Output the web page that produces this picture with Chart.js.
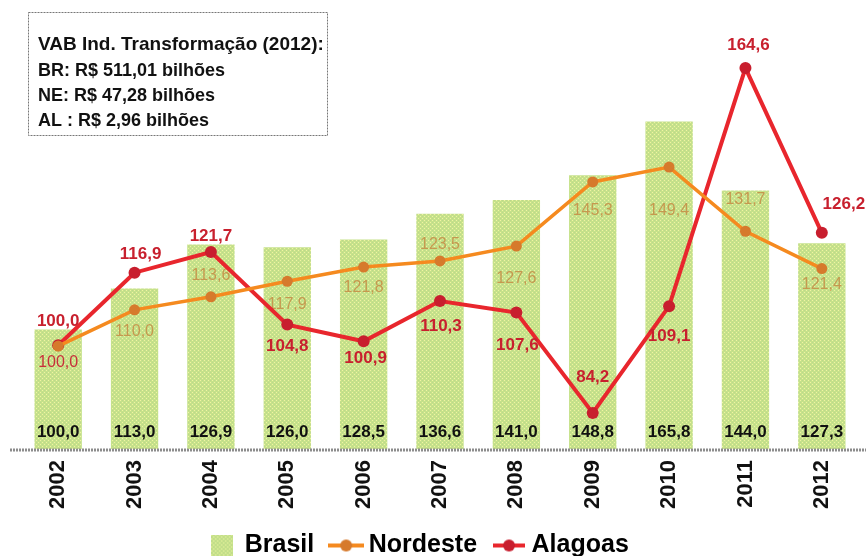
<!DOCTYPE html>
<html>
<head>
<meta charset="utf-8">
<script src="https://cdn.jsdelivr.net/npm/chart.js@4.4.1/dist/chart.umd.min.js"></script>
<style>
  html, body { margin: 0; padding: 0; background: #fff; }
</style>
</head>
<body>
<canvas id="vab-chart" width="866" height="556" style="width:866px;height:556px;display:block"></canvas>
<script>
const years = ["2002", "2003", "2004", "2005", "2006", "2007", "2008", "2009", "2010", "2011", "2012"];
const brasil = [100.0, 113.0, 126.9, 126.0, 128.5, 136.6, 141.0, 148.8, 165.8, 144.0, 127.3];
const nordeste = [100.0, 110.0, 113.6, 117.9, 121.8, 123.5, 127.6, 145.3, 149.4, 131.7, 121.4];
const alagoas = [100.0, 116.9, 121.7, 104.8, 100.9, 110.3, 107.6, 84.2, 109.1, 164.6, 126.2];

const boxTitle = "VAB Ind. Transformação (2012):";
const boxLines = ["BR: R$ 511,01 bilhões", "NE: R$ 47,28 bilhões", "AL : R$ 2,96 bilhões"];

// label placement relative to the point (px)
const nordesteLabelDy = [16, 22, -21, 23, 20, -16, 32, 29, 43, -32, 16];
const alagoasLabelDy = [-24, -18, -16, 22, 17, 25, 33, -36, 30, -23, -28];
const alagoasLabelDx = [0, 6, 0, 0, 2, 1, 1, 0, 0, 3, 22];

const FONT = "'Liberation Sans', Arial, sans-serif";
const fmt = (v) => v.toFixed(1).replace(".", ",");

const canvas = document.getElementById("vab-chart");
const ctx = canvas.getContext("2d");

const makeBarPattern = () => {
  const tile = document.createElement("canvas");
  tile.width = 4;
  tile.height = 4;
  const g = tile.getContext("2d");
  g.fillStyle = "#c6e28a";
  g.fillRect(0, 0, 4, 4);
  g.fillStyle = "#f0f4a2";
  g.fillRect(0, 0, 1, 1);
  g.fillRect(2, 2, 1, 1);
  g.fillStyle = "#bdd68e";
  g.fillRect(2, 0, 1, 1);
  g.fillRect(0, 2, 1, 1);
  return ctx.createPattern(tile, "repeat");
};
const barFill = makeBarPattern();

const legendBox = () => {
  const c = document.createElement("canvas");
  c.width = 22;
  c.height = 22;
  const g = c.getContext("2d");
  g.fillStyle = barFill;
  g.fillRect(0, 0, 22, 22);
  return c;
};

const legendLine = (w, lineColor, dotColor) => {
  const c = document.createElement("canvas");
  c.width = w;
  c.height = 14;
  const g = c.getContext("2d");
  g.strokeStyle = lineColor;
  g.lineWidth = 4;
  g.beginPath();
  g.moveTo(0, 7);
  g.lineTo(w, 7);
  g.stroke();
  g.fillStyle = dotColor;
  g.beginPath();
  g.arc(w / 2, 7, 6, 0, Math.PI * 2);
  g.fill();
  return c;
};

const legendIcons = [
  legendBox(),
  legendLine(36, "#f58a1f", "#d67a2c"),
  legendLine(32, "#e8262d", "#c81e2e"),
];

const valueLabels = {
  id: "valueLabels",
  afterLayout(chart) {
    // legend sits a bit left of centre in the original
    chart.legend.left -= 20;
    chart.legend.right -= 20;
  },
  afterDatasetDraw(chart, args) {
    if (args.index !== 0) return;
    const c = chart.ctx;
    const bars = chart.getDatasetMeta(0).data;
    const orange = chart.getDatasetMeta(1).data;
    c.save();
    c.textAlign = "center";
    c.textBaseline = "middle";
    c.font = "bold 17px " + FONT;
    c.fillStyle = "#111";
    bars.forEach((bar, i) => {
      c.fillText(fmt(brasil[i]), bar.x, chart.chartArea.bottom - 17);
    });
    c.font = "16px " + FONT;
    orange.forEach((pt, i) => {
      c.fillStyle = i === 0 ? "#c8303a" : "rgba(196, 134, 62, 0.8)";
      c.fillText(fmt(nordeste[i]), pt.x, pt.y + nordesteLabelDy[i]);
    });
    c.restore();
  },
  afterDatasetsDraw(chart) {
    const c = chart.ctx;
    const red = chart.getDatasetMeta(2).data;
    c.save();
    c.textAlign = "center";
    c.textBaseline = "middle";
    c.font = "bold 17px " + FONT;
    c.fillStyle = "#c8202e";
    red.forEach((pt, i) => {
      c.fillText(fmt(alagoas[i]), pt.x + alagoasLabelDx[i], pt.y + alagoasLabelDy[i]);
    });
    // axis line
    const y = chart.chartArea.bottom + 1;
    c.strokeStyle = "#8c8c8c";
    c.lineWidth = 3;
    c.setLineDash([2, 1]);
    c.beginPath();
    c.moveTo(10, y);
    c.lineTo(chart.width, y);
    c.stroke();
    c.restore();
  },
  afterDraw(chart) {
    const c = chart.ctx;
    c.save();
    c.fillStyle = "#fff";
    c.fillRect(28, 12, 299, 123);
    c.strokeStyle = "#777";
    c.lineWidth = 1;
    c.setLineDash([2, 1]);
    c.strokeRect(28.5, 12.5, 299, 123);
    c.setLineDash([]);
    c.fillStyle = "#111";
    c.textAlign = "left";
    c.textBaseline = "middle";
    c.font = "bold 19px " + FONT;
    c.fillText(boxTitle, 38, 45);
    c.font = "bold 18px " + FONT;
    boxLines.forEach((line, i) => {
      c.fillText(line, 38, 71 + i * 25);
    });
    c.restore();
  },
};

new Chart(ctx, {
  data: {
    labels: years,
    datasets: [
      {
        type: "bar",
        label: "Brasil",
        data: brasil,
        backgroundColor: barFill,
        borderWidth: 0,
        barPercentage: 0.62,
        categoryPercentage: 1,
        yAxisID: "yBar",
        order: 3,
      },
      {
        type: "line",
        label: "Nordeste",
        data: nordeste,
        borderColor: "#f58a1f",
        borderWidth: 3.5,
        pointRadius: 5.5,
        pointBackgroundColor: "#d67a2c",
        pointBorderWidth: 0,
        tension: 0,
        yAxisID: "yNe",
        order: 1,
      },
      {
        type: "line",
        label: "Alagoas",
        data: alagoas,
        borderColor: "#e8262d",
        borderWidth: 4,
        pointRadius: 6,
        pointBackgroundColor: "#c81e2e",
        pointBorderWidth: 0,
        tension: 0,
        yAxisID: "yAl",
        order: 2,
      },
    ],
  },
  options: {
    responsive: false,
    animation: false,
    layout: {
      padding: { top: 20, left: 20, right: 5, bottom: -12 },
    },
    scales: {
      x: {
        grid: { display: false },
        border: { display: false },
        ticks: {
          color: "#111",
          font: { family: FONT, size: 22, weight: "bold" },
          minRotation: 90,
          maxRotation: 90,
          padding: 3,
        },
        afterFit: (scale) => {
          scale.height = 62;
        },
      },
      yBar: { display: false, min: 62.2, max: 197.9 },
      yNe: { display: false, min: 71.6, max: 190.0 },
      yAl: { display: false, min: 75.8, max: 175.8 },
    },
    plugins: {
      tooltip: { enabled: false },
      legend: {
        position: "bottom",
        labels: {
          color: "#111",
          font: { family: FONT, size: 25, weight: "bold" },
          usePointStyle: true,
          pointStyleWidth: 20,
          padding: 22,
          generateLabels: (chart) =>
            chart.data.datasets.map((ds, i) => ({
              text: ds.label,
              pointStyle: legendIcons[i],
              fillStyle: "transparent",
              strokeStyle: "transparent",
              lineWidth: 0,
              datasetIndex: i,
            })),
        },
      },
    },
  },
  plugins: [valueLabels],
});
</script>
</body>
</html>
